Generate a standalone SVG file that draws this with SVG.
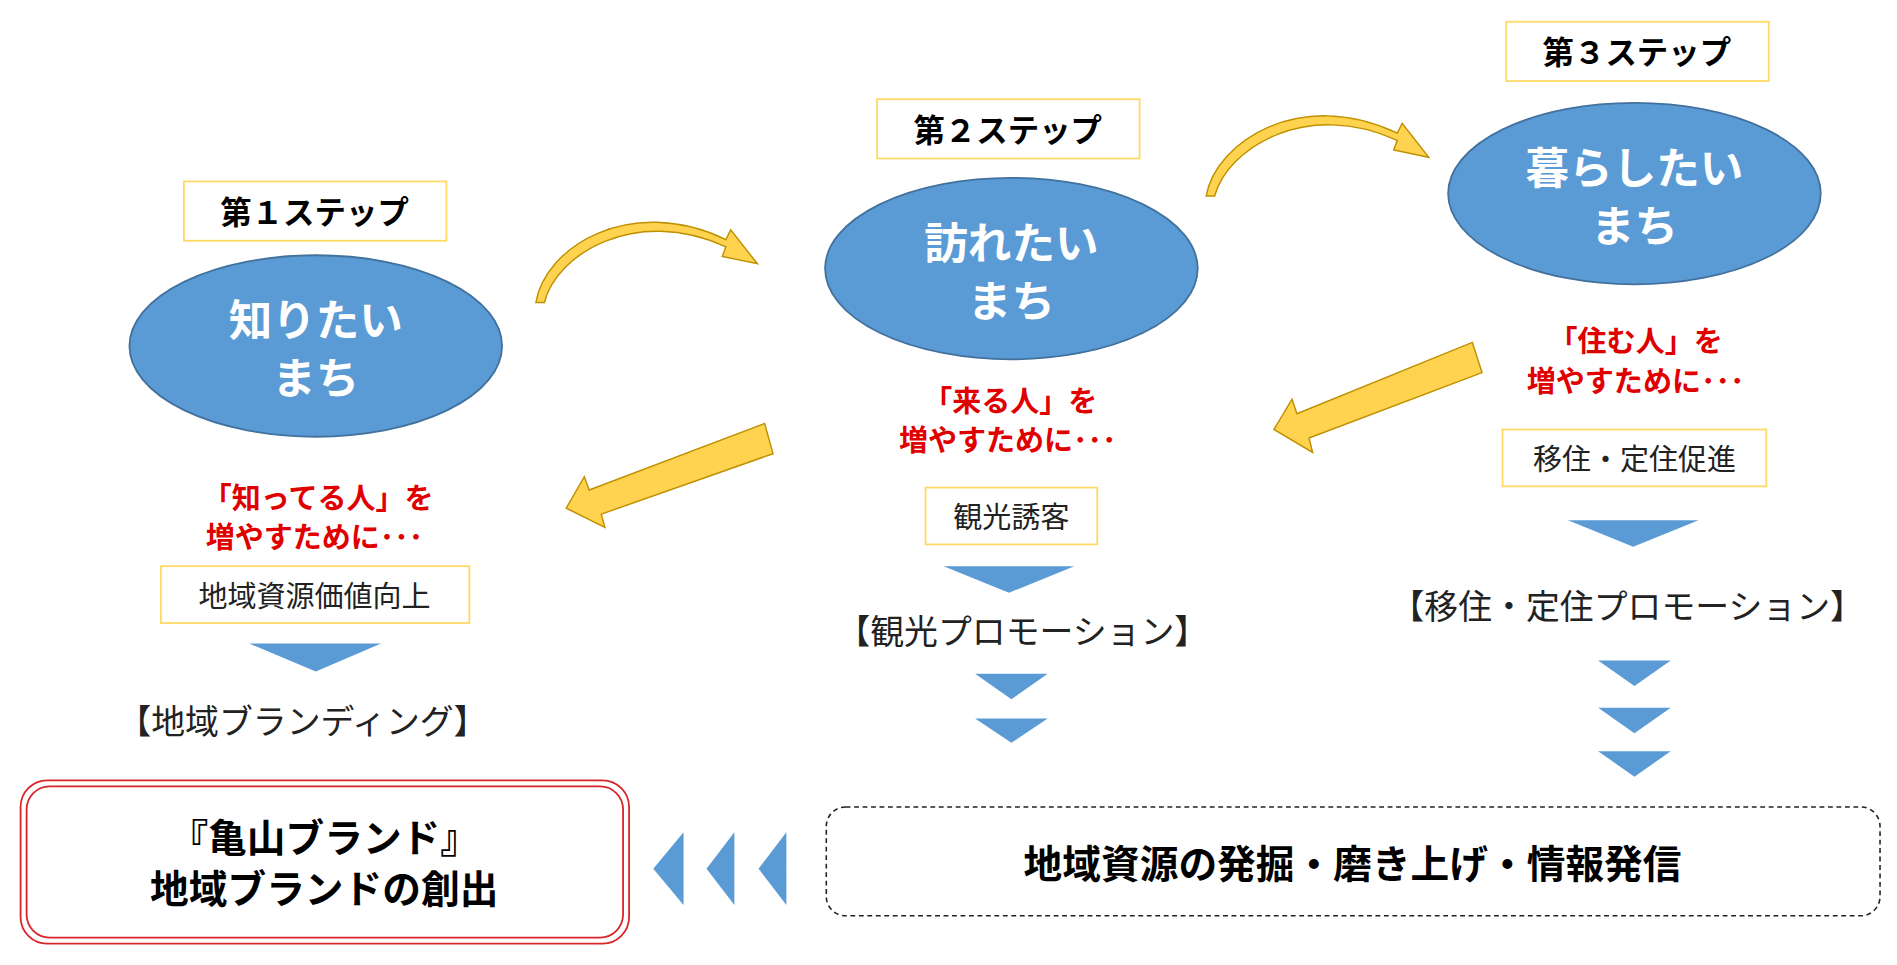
<svg xmlns="http://www.w3.org/2000/svg" width="1897" height="965" viewBox="0 0 1897 965">
<style>
text{font-family:"Noto Sans CJK JP","Noto Sans",sans-serif;text-anchor:middle;dominant-baseline:central}
.step{font-size:26px;font-weight:bold;fill:#000}
.ybox{fill:#fff;stroke:#FFD966;stroke-width:1.5}
.ell{fill:#5B9BD5;stroke:#41719C;stroke-width:1.5}
.et{font-size:36px;font-weight:bold;fill:#fff}
.red{font-size:24px;font-weight:bold;fill:#E00000}
.bt{font-size:24px;fill:#222}
.pr{font-size:28px;fill:#222}
.tri{fill:#5B9BD5}
.yarr{fill:#FFD34F;stroke:#BF9000;stroke-width:1.2}
.big{font-size:32px;font-weight:bold;fill:#000}
</style>
<rect width="1897" height="965" fill="#fff"/>
<g transform="scale(1.2098)">
<g id="step1"><rect class="ybox" x="152" y="150" width="217" height="49"/><text class="step" x="260" y="174">第１ステップ</text></g>
<g id="step2"><rect class="ybox" x="725" y="82" width="217" height="49"/><text class="step" x="833" y="106">第２ステップ</text></g>
<g id="step3"><rect class="ybox" x="1245" y="18" width="217" height="49"/><text class="step" x="1353" y="42">第３ステップ</text></g>
<g id="e1"><ellipse class="ell" cx="261" cy="286" rx="154" ry="75"/><text class="et" x="261" y="262">知りたい</text><text class="et" x="261" y="310">まち</text></g>
<g id="e2"><ellipse class="ell" cx="836" cy="222" rx="154" ry="75"/><text class="et" x="836" y="198">訪れたい</text><text class="et" x="836" y="246">まち</text></g>
<g id="e3"><ellipse class="ell" cx="1351" cy="160" rx="154" ry="75"/><text class="et" x="1351" y="136">暮らしたい</text><text class="et" x="1351" y="184">まち</text></g>
<g id="r1"><text class="red" x="263" y="410">「知ってる人」を</text><text class="red" x="260" y="442">増やすために･･･</text></g>
<g id="r2"><text class="red" x="835" y="330">「来る人」を</text><text class="red" x="833" y="362">増やすために･･･</text></g>
<g id="r3"><text class="red" x="1352" y="280">「住む人」を</text><text class="red" x="1352" y="313">増やすために･･･</text></g>
<g id="b1"><rect class="ybox" x="133" y="468" width="255" height="47"/><text class="bt" x="260" y="491">地域資源価値向上</text></g>
<g id="b2"><rect class="ybox" x="765" y="403" width="142" height="47"/><text class="bt" x="836" y="426">観光誘客</text></g>
<g id="b3"><rect class="ybox" x="1242" y="355" width="218" height="47"/><text class="bt" x="1351" y="378">移住・定住促進</text></g>
<g id="p1"><text class="pr" x="250" y="595">【地域ブランディング】</text></g>
<g id="p2"><text class="pr" x="845" y="520">【観光プロモーション】</text></g>
<g id="p3"><text class="pr" x="1345" y="500">【移住・定住プロモーション】</text></g>
<g id="out"><rect x="17" y="645" width="503" height="135" rx="22" fill="#fff" stroke="#D9262B" stroke-width="1.5"/><rect x="22" y="650" width="493" height="125" rx="19" fill="none" stroke="#D9262B" stroke-width="1.5"/><text class="big" x="268" y="690">『亀山ブランド』</text><text class="big" x="268" y="732">地域ブランドの創出</text></g>
<g id="src"><rect x="683" y="667" width="871" height="90" rx="16" fill="#fff" stroke="#222" stroke-width="1.3" stroke-dasharray="4 3"/><text class="big" x="1118" y="712">地域資源の発掘・磨き上げ・情報発信</text></g>
<g id="connectors">
<polygon class="tri" points="206,532 315,532 261,555"/>
<polygon class="tri" points="780,468 888,468 834,490"/>
<polygon class="tri" points="1296,430 1404,430 1350,452"/>
<polygon class="tri" points="806,557 866,557 836,578"/>
<polygon class="tri" points="806,594 866,594 836,614"/>
<polygon class="tri" points="1321,546 1381,546 1351,567"/>
<polygon class="tri" points="1321,585 1381,585 1351,606"/>
<polygon class="tri" points="1321,621 1381,621 1351,642"/>
<polygon class="tri" points="565,688 565,748 540,718"/>
<polygon class="tri" points="607,688 607,748 584,718"/>
<polygon class="tri" points="650,688 650,748 627,718"/>
<polygon class="yarr" points="632,350 639,375 497,425 500,436 468,420 483,394 487,405"/>
<polygon class="yarr" points="1217,283 1225,308 1082,362 1085,374 1053,355 1068,330 1072,342"/>
<path class="yarr" d="M443,250 C450,205 520,160 600,198 L604,190 L626,218 L597,212 L600,204 C525,170 460,210 450,250 Z"/>
<path class="yarr" d="M997,162 C1005,117 1075,72 1155,110 L1159,102 L1181,130 L1152,124 L1155,116 C1080,82 1015,122 1004,162 Z"/>
</g>
</g>
</svg>
